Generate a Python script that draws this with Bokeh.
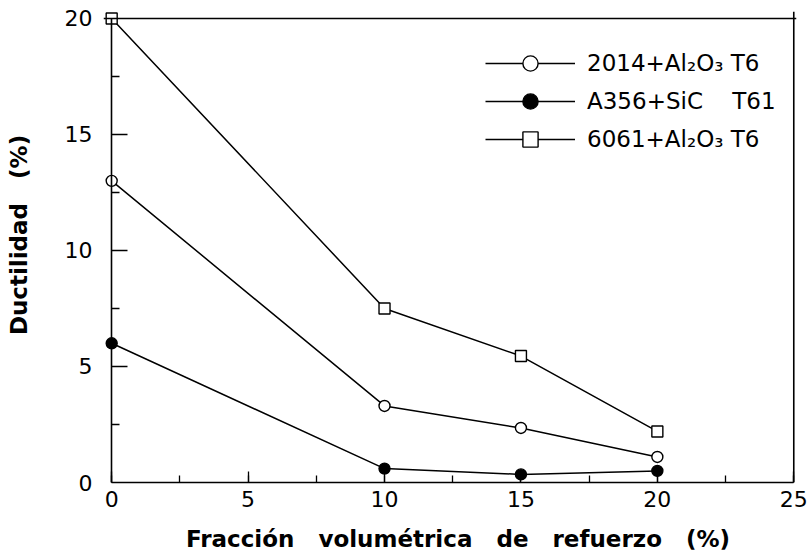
from bokeh.plotting import figure
from bokeh.models import (Range1d, SingleIntervalTicker, FixedTicker, Span, Legend,
                          LegendItem, LinearAxis)
from bokeh.embed import file_html
from bokeh.resources import INLINE

# ---- data ----
frac = [0, 10, 15, 20]
duct_2014 = [13.0, 3.3, 2.35, 1.1]
duct_a356 = [6.0, 0.6, 0.35, 0.5]
duct_6061 = [20.0, 7.5, 5.45, 2.2]
series_labels = ["2014+Al\u2082O\u2083 T6",
                 "A356+SiC\u00a0\u00a0\u00a0\u00a0T61",
                 "6061+Al\u2082O\u2083 T6"]
y_major = [0, 5, 10, 15, 20]
y_minor = [2.5, 7.5, 12.5, 17.5]
NB = "\u00a0"
x_label = NB * 2 + ("Fracci\u00f3n" + NB * 3 + "volum\u00e9trica" + NB * 3 + "de" + NB * 3
                    + "refuerzo" + NB * 3 + "(%)")
y_label = NB * 3 + "Ductilidad" + NB * 3 + "(%)"

FONT = "DejaVu Sans"

p = figure(width=810, height=560, output_backend="svg", toolbar_location=None,
           x_range=Range1d(-0.3, 25.1), y_range=Range1d(0, 20.3),
           min_border_left=103, min_border_right=14, min_border_top=11,
           min_border_bottom=78, background_fill_color="white",
           border_fill_color="white")
p.outline_line_color = None
p.xgrid.visible = False
p.ygrid.visible = False

def style(ax):
    ax.axis_line_color = "black"
    ax.axis_line_width = 1.6
    ax.major_tick_line_color = "black"
    ax.minor_tick_line_color = "black"
    ax.major_tick_line_width = 1.3
    ax.minor_tick_line_width = 1.3
    ax.major_tick_out = 0
    ax.minor_tick_out = 0
    ax.major_label_text_font = FONT
    ax.major_label_text_font_size = "22px"
    ax.major_label_text_color = "black"
    ax.axis_label_text_font = FONT
    ax.axis_label_text_font_size = "23px"
    ax.axis_label_text_font_style = "bold"
    ax.axis_label_text_color = "black"

# x axis
xax = p.xaxis[0]
style(xax)
xax.ticker = SingleIntervalTicker(interval=5, num_minor_ticks=2)
xax.bounds = (0, 25)
xax.major_tick_in = 11
xax.minor_tick_in = 7
xax.major_label_standoff = 8
xax.axis_label = x_label
xax.axis_label_standoff = 16

# y axis line at x = 0 with the long inward ticks (drawn as unlabeled ticks)
yline = p.yaxis[0]
style(yline)
yline.fixed_location = 0
yline.bounds = (0, 20)
yline.ticker = FixedTicker(ticks=[], minor_ticks=y_major[1:-1])
yline.minor_tick_in = 16

# short inward ticks at x = 0
yminor = LinearAxis(fixed_location=0, bounds=(0, 20),
                    ticker=FixedTicker(ticks=[], minor_ticks=y_minor))
style(yminor)
yminor.axis_line_color = None
yminor.minor_tick_in = 8
p.add_layout(yminor, "left")

# tick labels and title of the y axis
ylab = LinearAxis(ticker=FixedTicker(ticks=y_major), bounds=(0, 20))
style(ylab)
ylab.axis_line_color = None
ylab.major_tick_line_color = None
ylab.minor_tick_line_color = None
ylab.major_tick_in = 0
ylab.minor_tick_in = 0
ylab.major_label_standoff = 11
ylab.axis_label = y_label
ylab.axis_label_standoff = 30
p.add_layout(ylab, "left")

# frame top & right borders
p.add_layout(Span(location=20, dimension="width", line_color="black", line_width=1.6))
p.add_layout(Span(location=25, dimension="height", line_color="black", line_width=1.6))

# series
l1 = p.line(frac, duct_2014, line_color="black", line_width=1.5)
m1 = p.scatter(frac, duct_2014, marker="circle", size=11, fill_color="white",
               line_color="black", line_width=1.4)
l2 = p.line(frac, duct_a356, line_color="black", line_width=1.5)
m2 = p.scatter(frac, duct_a356, marker="circle", size=11, fill_color="black",
               line_color="black", line_width=1.4)
l3 = p.line(frac, duct_6061, line_color="black", line_width=1.5)
m3 = p.scatter(frac, duct_6061, marker="square", size=11, fill_color="white",
               line_color="black", line_width=1.4)

legend = Legend(items=[LegendItem(label=series_labels[0], renderers=[l1, m1]),
                       LegendItem(label=series_labels[1], renderers=[l2, m2]),
                       LegendItem(label=series_labels[2], renderers=[l3, m3])],
                location=(382, 324), glyph_width=90, glyph_height=38,
                label_height=38, spacing=0, padding=0, margin=0,
                label_standoff=12, label_text_font=FONT,
                label_text_font_size="23px", label_text_color="black",
                border_line_color=None, background_fill_alpha=0)
p.add_layout(legend)

open("out.html", "w").write(file_html(p, INLINE))
